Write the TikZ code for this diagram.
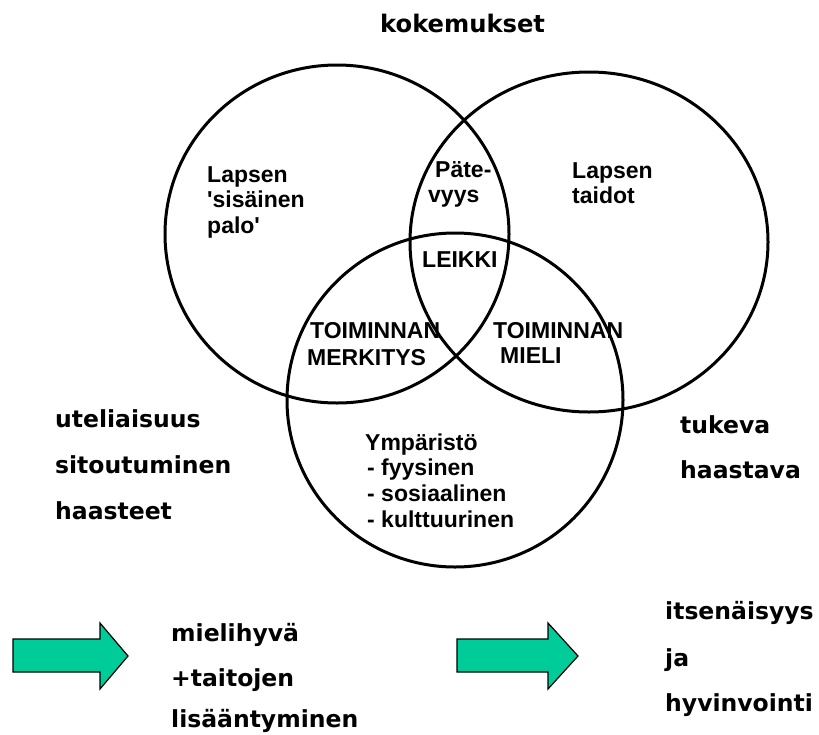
\documentclass[tikz,border=0pt]{standalone}
\usepackage{fontspec}
\setmainfont{Liberation Sans}
\newfontfamily\innerfam{Liberation Sans}
\newfontfamily\outerfam{DejaVu Sans}
\definecolor{arrowgreen}{RGB}{0,204,153}
\begin{document}
\begin{tikzpicture}[x=1pt,y=-1pt,
  ring/.style={draw=black, line width=3pt},
  inner/.style={inner sep=0pt, anchor=base west, font=\innerfam\bfseries\fontsize{23}{25}\selectfont},
  outer/.style={inner sep=0pt, anchor=base west, font=\outerfam\bfseries\fontsize{23.5}{26}\selectfont},
  bigarrow/.style={fill=arrowgreen, draw=black, line width=1.2pt, line join=miter}]
\useasboundingbox (0,0) rectangle (819,734);
\fill[white] (0,0) rectangle (819,734);

% circles
\draw[ring] (337,234) ellipse [x radius=172, y radius=169];
\draw[ring] (589,242) ellipse [x radius=179, y radius=170];
\draw[ring] (455,400) ellipse [x radius=168, y radius=167];

% title
\node[outer, font=\outerfam\bfseries\fontsize{24.2}{26}\selectfont] (title) at (380,32) {kokemukset};

% inner texts
\node[inner] (lap1) at (207,182) {Lapsen};
\node[inner] (lap2) at (207,207) {'sisäinen};
\node[inner] (lap3) at (207,233) {palo'};
\node[inner] (pat1) at (435,177) {Päte-};
\node[inner] (pat2) at (428,202) {vyys};
\node[inner] (leik) at (422,267) {LEIKKI};
\node[inner] (tm1) at (310,338) {TOIMINNAN};
\node[inner] (tm2) at (307,365) {MERKITYS};
\node[inner] (tmi1) at (493,338) {TOIMINNAN};
\node[inner] (tmi2) at (500,363) {MIELI};
\node[inner] (ymp1) at (365,450) {Ympäristö};
\node[inner] (ymp2) at (367,475) {- fyysinen};
\node[inner] (ymp3) at (367,501) {- sosiaalinen};
\node[inner] (ymp4) at (367,527) {- kulttuurinen};
\node[inner] (tai1) at (572,178) {Lapsen};
\node[inner] (tai2) at (572,203) {taidot};

% outer lists
\node[outer] (ute) at (55,427) {uteliaisuus};
\node[outer] (sit) at (55,473) {sitoutuminen};
\node[outer] (haa) at (55,519) {haasteet};
\node[outer] (tuk) at (680,433) {tukeva};
\node[outer] (has) at (680,478) {haastava};
\node[outer] (mie) at (171,641) {mielihyvä};
\node[outer] (tat) at (171,686) {+taitojen};
\node[outer] (lis) at (171,727) {lisääntyminen};
\node[outer] (its) at (665,619) {itsenäisyys};
\node[outer] (ja) at (665,666) {ja};
\node[outer] (hyv) at (665,711) {hyvinvointi};

% arrows
\draw[bigarrow] (13,639) -- (100,639) -- (100,623) -- (128,656) -- (100,689) -- (100,672) -- (13,672) -- cycle;
\draw[bigarrow] (457,639) -- (548,639) -- (548,623) -- (578,656) -- (548,689) -- (548,672) -- (457,672) -- cycle;
\end{tikzpicture}
\end{document}
